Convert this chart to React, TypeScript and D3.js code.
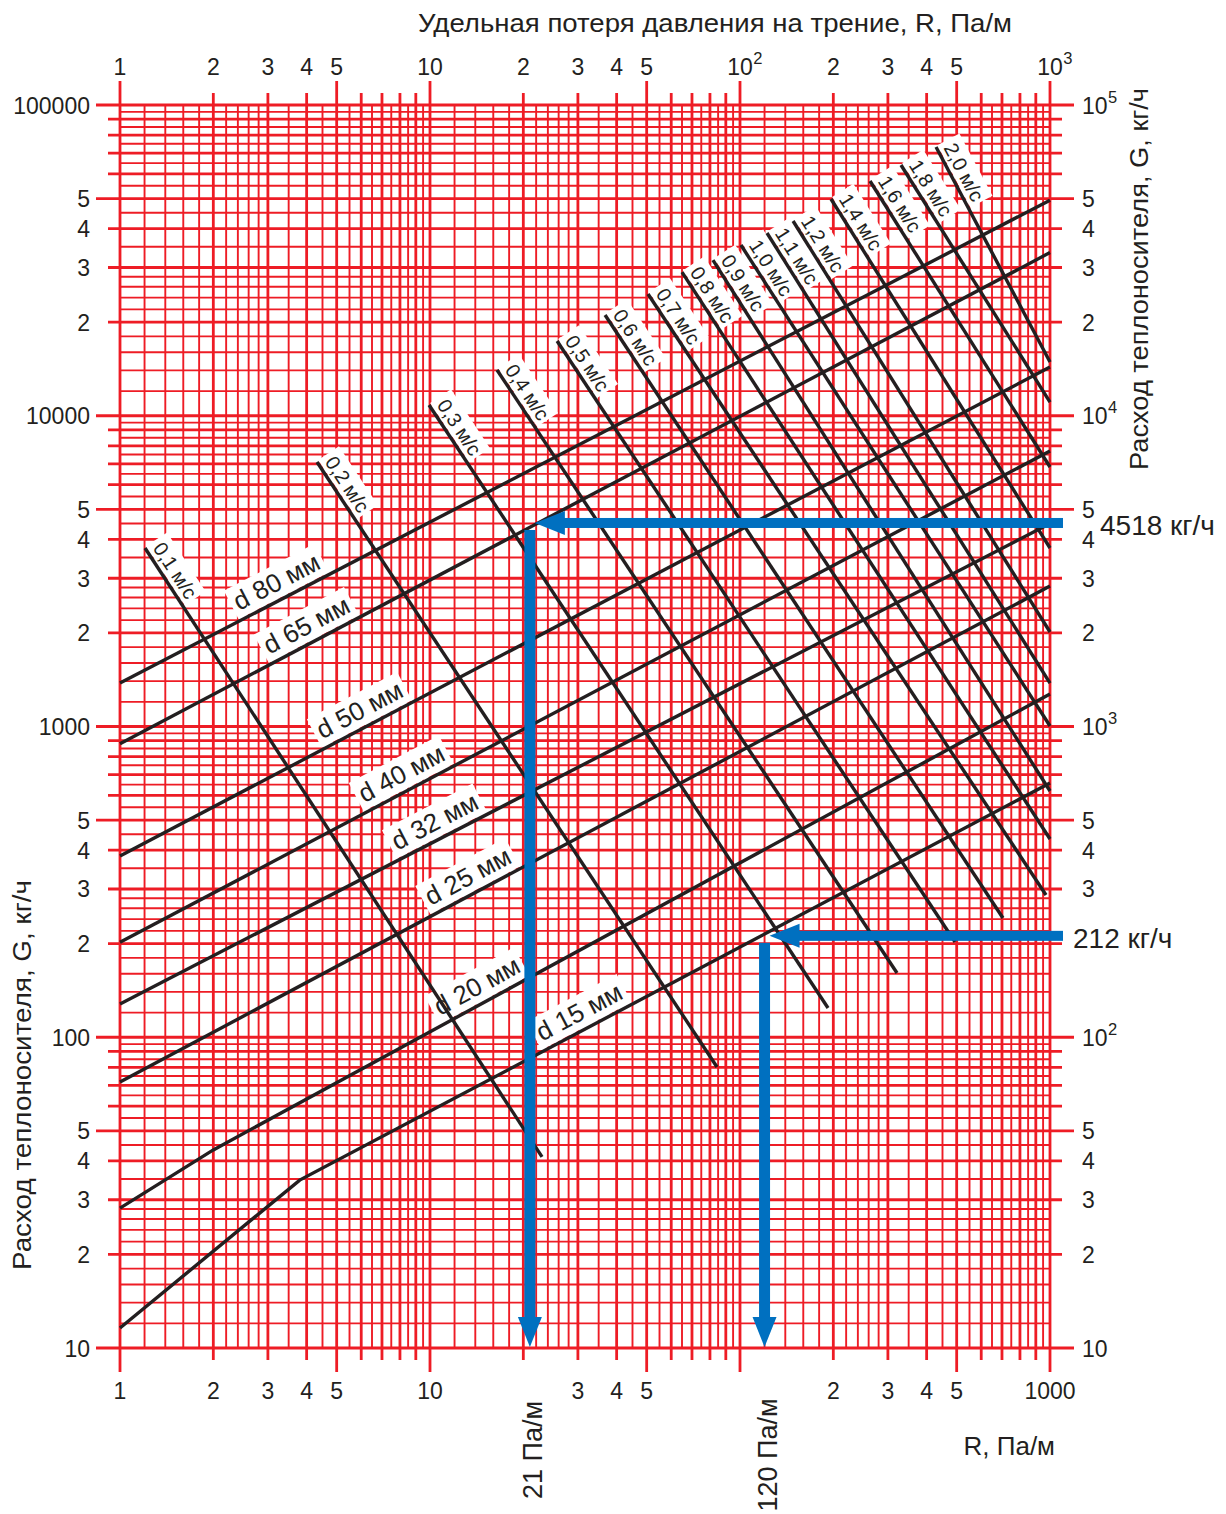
import React from 'react';
import * as d3 from 'd3';

// ---------- data ----------
const gridMultipliers = [1, 1.2, 1.4, 1.6, 1.8, 2, 2.2, 2.4, 2.6, 2.8, 3, 3.5, 4, 4.5, 5, 5.5, 6, 6.5, 7, 7.5, 8, 8.5, 9, 9.5];
const xDecades = [1, 10, 100];
const yDecades = [10, 100, 1000, 10000];

const topTicks = [1, 2, 3, 4, 5, 10, 20, 30, 40, 50, 100, 200, 300, 400, 500, 1000];
const topTickText = ['1', '2', '3', '4', '5', '10', '2', '3', '4', '5', '10^2', '2', '3', '4', '5', '10^3'];
const bottomTicks = [1, 2, 3, 4, 5, 10, 30, 40, 50, 200, 300, 400, 500, 1000];
const bottomTickText = ['1', '2', '3', '4', '5', '10', '3', '4', '5', '2', '3', '4', '5', '1000'];
const yTicks = [100000, 50000, 40000, 30000, 20000, 10000, 5000, 4000, 3000, 2000, 1000, 500, 400, 300, 200, 100, 50, 40, 30, 20, 10];
const leftTickText = ['100000', '5', '4', '3', '2', '10000', '5', '4', '3', '2', '1000', '5', '4', '3', '2', '100', '5', '4', '3', '2', '10'];
const rightTicks = [100000, 50000, 40000, 30000, 20000, 10000, 5000, 4000, 3000, 2000, 1000, 500, 400, 300, 100, 50, 40, 30, 20, 10];
const rightTickText = ['10^5', '5', '4', '3', '2', '10^4', '5', '4', '3', '2', '10^3', '5', '4', '3', '10^2', '5', '4', '3', '2', '10'];

// pipe diameter lines (R in Pa/m, G in kg/h)
const diameterNames = ['d 80 мм', 'd 65 мм', 'd 50 мм', 'd 40 мм', 'd 32 мм', 'd 25 мм', 'd 20 мм', 'd 15 мм'];
const diameterR = [[1, 1000], [1, 1000], [1, 1000], [1, 1000], [1, 1000], [1, 1000], [1, 2.0, 1000], [1, 3.8, 1000]];
const diameterG = [[1380, 49400], [880, 33500], [383, 14350], [202, 7700], [128, 4500], [71.8, 2830], [28.2, 43.4, 1273], [11.6, 34.7, 658]];
const diameterLabelR = [3.4, 4.25, 6.3, 8.6, 11.0, 14.1, 15.1, 32.2];

// velocity lines
const velocityNames = ['0,1 м/с', '0,2 м/с', '0,3 м/с', '0,4 м/с', '0,5 м/с', '0,6 м/с', '0,7 м/с', '0,8 м/с', '0,9 м/с', '1,0 м/с', '1,1 м/с', '1,2 м/с', '1,4 м/с', '1,6 м/с', '1,8 м/с', '2,0 м/с'];
const velTopR = [1.204, 4.32, 9.93, 16.45, 25.7, 36.7, 50.5, 65.0, 81.8, 100.7, 122.2, 148.3, 196.6, 262.6, 330.6, 428.9];
const velTopG = [3753, 7100, 10830, 14040, 17400, 21100, 24650, 29000, 31700, 35430, 38740, 42340, 49830, 56930, 64110, 73260];
const velBotR = [22.98, 84.3, 192.3, 321, 494, 705, 970.7, 1000, 1000, 1000, 1000, 1000, 1000, 1000, 1000, 1000];
const velBotG = [41.2, 80.2, 124.2, 161, 202.5, 242, 287, 434.5, 620, 1004, 1380, 2014, 3753, 6840, 11070, 14890];

// worked examples
const readR = [21, 120];
const readG = [4518, 212];
const readRText = ['21 Па/м', '120 Па/м'];
const readGText = ['4518 кг/ч', '212 кг/ч'];

const titleTop = 'Удельная потеря давления на трение, R, Па/м';
const titleG = 'Расход теплоносителя, G, кг/ч';
const titleR = 'R, Па/м';

// ---------- styles ----------
const FONT = "'Liberation Sans', Arial, Helvetica, sans-serif";
const RED = '#ee1c25';
const INK = '#231f20';
const BLUE = '#0070c0';

function mantissa(v: number) {
  const e = Math.floor(Math.log10(v) + 1e-9);
  return v / Math.pow(10, e);
}
function isInt(v: number) {
  const m = mantissa(v);
  return Math.abs(m - Math.round(m)) < 1e-6;
}
function isMajor(v: number) {
  const m = mantissa(v);
  return Math.abs(m - 1) < 1e-6 || Math.abs(m - 5) < 1e-6 || Math.abs(m - 10) < 1e-6;
}

function SupText({ x, y, text, anchor, size }: { x: number; y: number; text: string; anchor: string; size: number }) {
  const [base, sup] = text.split('^');
  if (!sup) {
    return <text x={x} y={y} textAnchor={anchor} fontSize={size}>{base}</text>;
  }
  const bw = size * 0.556 * base.length;
  const sx = anchor === 'middle' ? x - bw / 2 : x;
  return (
    <g>
      <text x={sx} y={y} fontSize={size}>{base}</text>
      <text x={sx + bw + 0.5} y={y - 11} fontSize={size * 0.72}>{sup}</text>
    </g>
  );
}

export default function App() {
  const W = 1226, H = 1514;
  const x = d3.scaleLog().domain([1, 1000]).range([120, 1050]);
  const y = d3.scaleLog().domain([10, 100000]).range([1348, 105]);
  const [x0, x1] = x.range();
  const [y0, y1] = [y(100000), y(10)];

  const xGrid = [...xDecades.flatMap(d => gridMultipliers.map(m => +(d * m).toPrecision(6))), 1000];
  const yGrid = [...yDecades.flatMap(d => gridMultipliers.map(m => +(d * m).toPrecision(6))), 100000];

  const line = d3.line<[number, number]>().x(d => x(d[0])).y(d => y(d[1]));

  const fsTick = 23;
  const fsVel = 20;
  const fsDia = 26;

  const diaLabels = diameterNames.map((name, i) => {
    const pts = diameterR[i].map((r, k) => [x(r), y(diameterG[i][k])]);
    const px = x(diameterLabelR[i]);
    let k = 0;
    while (k < pts.length - 2 && px > pts[k + 1][0]) k++;
    const [ax, ay] = pts[k];
    const [bx, by] = pts[k + 1];
    const t = (px - ax) / (bx - ax);
    const py = ay + t * (by - ay);
    const ang = (Math.atan2(by - ay, bx - ax) * 180) / Math.PI;
    return { name, px, py, ang };
  });

  const velLabels = velocityNames.map((name, i) => {
    const ax = x(velTopR[i]), ay = y(velTopG[i]);
    const bx = x(velBotR[i]), by = y(velBotG[i]);
    const ang = (Math.atan2(by - ay, bx - ax) * 180) / Math.PI;
    return { name, ax, ay, ang };
  });

  const velLen = fsVel * 3.03;
  const diaLen = fsDia * 3.38;

  return (
    <svg width={W} height={H} viewBox={`0 0 ${W} ${H}`} style={{ position: 'absolute', left: 0, top: 0, background: '#fff' }} fontFamily={FONT}>
      <rect x={0} y={0} width={W} height={H} fill="#fff" />
      {/* grid */}
      <g stroke={RED}>
        {xGrid.map((v, i) => {
          const int = isInt(v);
          const ext = int ? (isMajor(v) ? 24 : 12) : 0;
          return (
            <line key={'vx' + i} x1={x(v)} x2={x(v)} y1={y0 - ext} y2={y1 + ext}
              strokeWidth={int ? 2.8 : 1.9} />
          );
        })}
        {yGrid.map((v, i) => {
          const int = isInt(v);
          const ext = int ? (isMajor(v) ? 24 : 12) : 0;
          return (
            <line key={'hy' + i} y1={y(v)} y2={y(v)} x1={x0 - ext} x2={x1 + ext}
              strokeWidth={int ? 2.8 : 1.9} />
          );
        })}
      </g>

      {/* label backgrounds */}
      <g fill="#fff">
        {velLabels.map((l, i) => (
          <rect key={'vb' + i} transform={`translate(${l.ax},${l.ay}) rotate(${l.ang})`}
            x={-1} y={-(fsVel + 7)} width={velLen + 10} height={fsVel + 5} />
        ))}
        {diaLabels.map((l, i) => (
          <rect key={'db' + i} transform={`translate(${l.px},${l.py}) rotate(${l.ang})`}
            x={-diaLen / 2 - 7} y={-(fsDia + 8)} width={diaLen + 14} height={fsDia + 6} />
        ))}
      </g>

      {/* diameter and velocity lines */}
      <g fill="none" stroke={INK} strokeWidth={3.4}>
        {diameterNames.map((n, i) => (
          <path key={'d' + i} d={line(diameterR[i].map((r, k) => [r, diameterG[i][k]]) as [number, number][]) || ''} />
        ))}
        {velocityNames.map((n, i) => (
          <path key={'v' + i} d={line([[velTopR[i], velTopG[i]], [velBotR[i], velBotG[i]]]) || ''} />
        ))}
      </g>

      {/* line labels */}
      <g fill={INK}>
        {velLabels.map((l, i) => (
          <text key={'vt' + i} transform={`translate(${l.ax},${l.ay}) rotate(${l.ang})`}
            x={4} y={-6} fontSize={fsVel}>{l.name}</text>
        ))}
        {diaLabels.map((l, i) => (
          <text key={'dt' + i} transform={`translate(${l.px},${l.py}) rotate(${l.ang})`}
            x={0} y={-9} fontSize={fsDia} textAnchor="middle">{l.name}</text>
        ))}
      </g>

      {/* blue worked examples */}
      <g fill={BLUE} stroke="none">
        {readR.map((r, i) => {
          const px = x(r), py = y(readG[i]);
          const tipX = px + 5;
          const right = x1 + 13;
          const tipY = y(10) - 1;
          return (
            <g key={'b' + i}>
              <rect x={tipX + 28} y={py - 5} width={right - tipX - 28} height={10} />
              <path d={`M${tipX},${py} L${tipX + 30},${py - 12} L${tipX + 30},${py + 12} Z`} />
              <rect x={px - 5.5} y={py + 7} width={11} height={tipY - 28 - (py + 7)} />
              <path d={`M${px},${tipY} L${px - 12},${tipY - 30} L${px + 12},${tipY - 30} Z`} />
            </g>
          );
        })}
      </g>

      {/* tick labels */}
      <g fill={INK}>
        {topTicks.map((v, i) => (
          <SupText key={'tt' + i} x={x(v)} y={75} text={topTickText[i]} anchor="middle" size={fsTick} />
        ))}
        {bottomTicks.map((v, i) => (
          <text key={'bt' + i} x={x(v)} y={1399} textAnchor="middle" fontSize={fsTick}>{bottomTickText[i]}</text>
        ))}
        {yTicks.map((v, i) => (
          <text key={'lt' + i} x={90} y={y(v) + 8.5} textAnchor="end" fontSize={fsTick}>{leftTickText[i]}</text>
        ))}
        {rightTicks.map((v, i) => (
          <SupText key={'rt' + i} x={1082} y={y(v) + 8.5} text={rightTickText[i]} anchor="start" size={fsTick} />
        ))}
      </g>

      {/* titles */}
      <g fill={INK}>
        <text x={715} y={32} textAnchor="middle" fontSize={26} textLength={594} lengthAdjust="spacingAndGlyphs">{titleTop}</text>
        <text transform={`translate(1148,279) rotate(-90)`} textAnchor="middle" fontSize={26} textLength={382} lengthAdjust="spacingAndGlyphs">{titleG}</text>
        <text transform={`translate(31,1075) rotate(-90)`} textAnchor="middle" fontSize={26} textLength={390} lengthAdjust="spacingAndGlyphs">{titleG}</text>
        <text x={1055} y={1455} textAnchor="end" fontSize={26}>{titleR}</text>
        {readR.map((r, i) => (
          <text key={'rr' + i} transform={`translate(${x(r) + 12},${i === 0 ? 1450 : 1455}) rotate(-90)`} textAnchor="middle" fontSize={27}>{readRText[i]}</text>
        ))}
        {readG.map((g, i) => (
          <text key={'rg' + i} x={i === 0 ? 1100 : 1073} y={y(g) + 12} fontSize={28}>{readGText[i]}</text>
        ))}
      </g>
    </svg>
  );
}
